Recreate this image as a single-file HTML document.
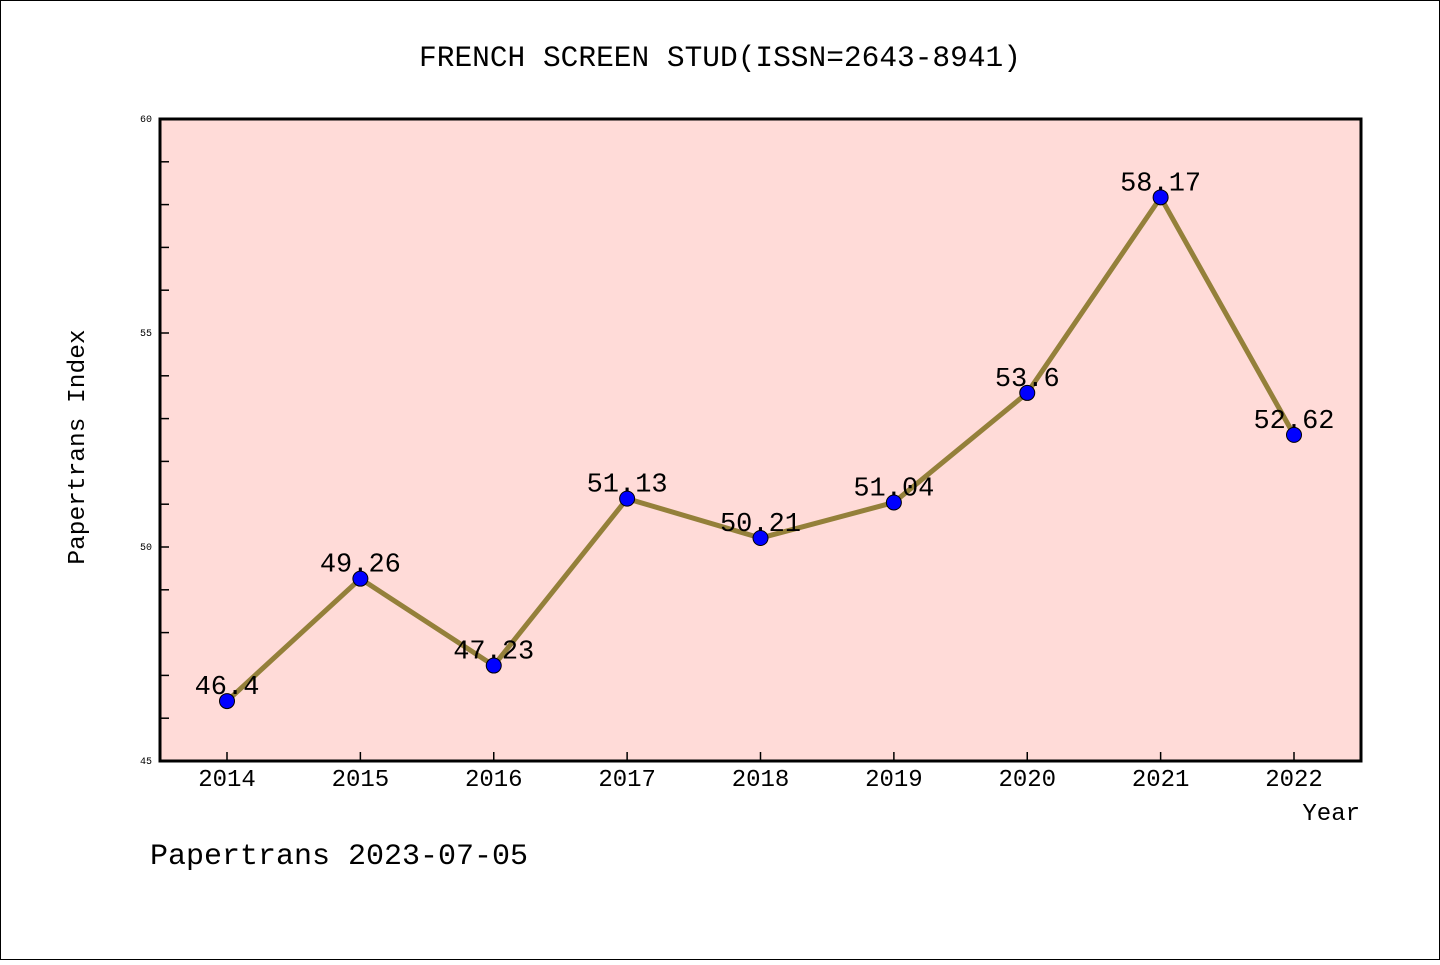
<!DOCTYPE html>
<html><head><meta charset="utf-8"><style>
body{margin:0;background:#fff}
svg text{font-family:"WenQuanYi Zen Hei Mono","Liberation Mono",monospace}
</style></head><body>
<svg width="1440" height="960" viewBox="0 0 1440 960">
<rect x="0.5" y="0.5" width="1439" height="959" fill="#fff" stroke="#000"/>
<text x="720" y="66" font-size="29.5" text-anchor="middle">FRENCH SCREEN STUD(ISSN=2643-8941)</text>
<rect x="160" y="119" width="1201" height="642" fill="#ffdbd8"/>
<g id="ticks"></g>
<polyline id="line" fill="none" stroke="#94803a" stroke-width="5"/>
<g id="pts"></g>
<rect x="160" y="119" width="1201" height="642" fill="none" stroke="#000" stroke-width="3"/>
<text x="84" y="447" font-size="24.5" text-anchor="middle" transform="rotate(-90 84 447)">Papertrans Index</text>
<text x="1360" y="820" font-size="24" text-anchor="end">Year</text>
<text x="150" y="864" font-size="30">Papertrans 2023-07-05</text>
</svg>
<script>
const years=["2014","2015","2016","2017","2018","2019","2020","2021","2022"];
const values=[46.4,49.26,47.23,51.13,50.21,51.04,53.6,58.17,52.62];
const labels=["46.4","49.26","47.23","51.13","50.21","51.04","53.6","58.17","52.62"];
const yTicks=[45,50,55,60];
const NS="http://www.w3.org/2000/svg";
const x=i=>227+i*(1294-227)/(years.length-1);
const y=v=>761-(v-45)*(642/15);
function mk(t,a,p){const e=document.createElementNS(NS,t);for(const k in a)e.setAttribute(k,a[k]);p.appendChild(e);return e;}
const tk=document.getElementById('ticks');
for(let v=46;v<60;v++){const l=mk('line',{x1:160,x2:169,y1:y(v),y2:y(v),stroke:'#000','stroke-width':1.5},tk);

}
yTicks.forEach(v=>{const t=mk('text',{x:152,y:y(v)+3,'font-size':10,'text-anchor':'end'},tk);t.textContent=v;

});
years.forEach((yr,i)=>{const l=mk('line',{x1:x(i),x2:x(i),y1:752,y2:761,stroke:'#000','stroke-width':1.5},tk);


const t=mk('text',{x:x(i),y:786,'font-size':24,'text-anchor':'middle'},tk);t.textContent=yr;

});
document.getElementById('line').setAttribute('points',values.map((v,i)=>x(i)+','+y(v)).join(' '));
const pg=document.getElementById('pts');
values.forEach((v,i)=>{const c=mk('circle',{cx:x(i),cy:y(v),r:7.5,fill:'#0000ff',stroke:'#000','stroke-width':1},pg);


const t=mk('text',{x:x(i),y:y(v)-7,'font-size':27,'text-anchor':'middle'},pg);t.textContent=labels[i];

});
</script>
</body></html>
